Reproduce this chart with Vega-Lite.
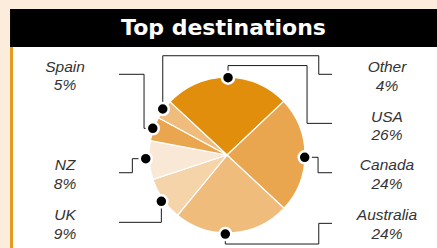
{
  "$schema": "https://vega.github.io/schema/vega-lite/v6.json",
  "width": 424,
  "height": 201,
  "autosize": {"type": "none"},
  "padding": {"left": 13, "top": 47, "right": 0, "bottom": 0},
  "background": "#FCECDC",
  "view": {"fill": "#FFFFFF", "stroke": null},
  "datasets": {
    "shares": [
      {"dest": "USA", "share": 0.26, "rank": 1},
      {"dest": "Canada", "share": 0.24, "rank": 2},
      {"dest": "Australia", "share": 0.24, "rank": 3},
      {"dest": "UK", "share": 0.09, "rank": 4},
      {"dest": "NZ", "share": 0.08, "rank": 5},
      {"dest": "Spain", "share": 0.05, "rank": 6},
      {"dest": "Other", "share": 0.04, "rank": 7}
    ],
    "leaders": [
      {"dest": "Other", "i": 0, "x": -0.824, "y": -0.590},
      {"dest": "Other", "i": 1, "x": -0.824, "y": -1.273},
      {"dest": "Other", "i": 2, "x": 1.176, "y": -1.273},
      {"dest": "Other", "i": 3, "x": 1.176, "y": -1.035},
      {"dest": "Other", "i": 4, "x": 1.346, "y": -1.035},
      {"dest": "Spain", "i": 0, "x": -0.952, "y": -0.342},
      {"dest": "Spain", "i": 1, "x": -1.064, "y": -0.342},
      {"dest": "Spain", "i": 2, "x": -1.064, "y": -1.035},
      {"dest": "Spain", "i": 3, "x": -1.385, "y": -1.035},
      {"dest": "NZ", "i": 0, "x": -1.042, "y": 0.047},
      {"dest": "NZ", "i": 1, "x": -1.214, "y": 0.047},
      {"dest": "NZ", "i": 2, "x": -1.214, "y": 0.227},
      {"dest": "NZ", "i": 3, "x": -1.385, "y": 0.227},
      {"dest": "UK", "i": 0, "x": -0.842, "y": 0.594},
      {"dest": "UK", "i": 1, "x": -0.842, "y": 0.863},
      {"dest": "UK", "i": 2, "x": -1.385, "y": 0.863},
      {"dest": "USA", "i": 0, "x": 0.013, "y": -0.991},
      {"dest": "USA", "i": 1, "x": 0.013, "y": -1.147},
      {"dest": "USA", "i": 2, "x": 1.026, "y": -1.147},
      {"dest": "USA", "i": 3, "x": 1.026, "y": -0.406},
      {"dest": "USA", "i": 4, "x": 1.346, "y": -0.406},
      {"dest": "Canada", "i": 0, "x": 0.996, "y": 0.029},
      {"dest": "Canada", "i": 1, "x": 1.167, "y": 0.029},
      {"dest": "Canada", "i": 2, "x": 1.167, "y": 0.227},
      {"dest": "Canada", "i": 3, "x": 1.346, "y": 0.227},
      {"dest": "Australia", "i": 0, "x": -0.022, "y": 1.013},
      {"dest": "Australia", "i": 1, "x": -0.022, "y": 1.141},
      {"dest": "Australia", "i": 2, "x": 1.176, "y": 1.141},
      {"dest": "Australia", "i": 3, "x": 1.176, "y": 0.876},
      {"dest": "Australia", "i": 4, "x": 1.346, "y": 0.876}
    ],
    "labels": [
      {"dest": "Spain", "lx": -2.077, "ly": -1.068},
      {"dest": "NZ", "lx": -2.077, "ly": 0.192},
      {"dest": "UK", "lx": -2.077, "ly": 0.833},
      {"dest": "Other", "lx": 2.051, "ly": -1.060},
      {"dest": "USA", "lx": 2.051, "ly": -0.427},
      {"dest": "Canada", "lx": 2.051, "ly": 0.192},
      {"dest": "Australia", "lx": 2.051, "ly": 0.833}
    ]
  },
  "layer": [
    {
      "data": {"values": [{}]},
      "mark": {"type": "rect", "color": "#000000"},
      "encoding": {
        "x": {"datum": -2.782, "type": "quantitative", "scale": {"domain": [-2.744, 2.692], "nice": false, "zero": false}, "axis": null},
        "x2": {"datum": 2.692},
        "y": {"datum": -1.872, "type": "quantitative", "scale": {"domain": [-1.385, 1.192], "nice": false, "zero": false, "reverse": true}, "axis": null},
        "y2": {"datum": -1.385}
      }
    },
    {
      "data": {"values": [{}]},
      "mark": {"type": "rect", "color": "#E59A1C"},
      "encoding": {
        "x": {"datum": -2.782, "type": "quantitative", "scale": {"domain": [-2.744, 2.692], "nice": false, "zero": false}, "axis": null},
        "x2": {"datum": -2.744},
        "y": {"datum": -1.385, "type": "quantitative", "scale": {"domain": [-1.385, 1.192], "nice": false, "zero": false, "reverse": true}, "axis": null},
        "y2": {"datum": 1.192}
      }
    },
    {
      "data": {"values": [{}]},
      "mark": {"type": "text", "text": "Top destinations", "font": "DejaVu Sans", "fontWeight": "bold", "fontSize": 22, "color": "#FFFFFF", "align": "center", "baseline": "alphabetic"},
      "encoding": {
        "x": {"datum": -0.045, "type": "quantitative", "scale": {"domain": [-2.744, 2.692], "nice": false, "zero": false}, "axis": null},
        "y": {"datum": -1.538, "type": "quantitative", "scale": {"domain": [-1.385, 1.192], "nice": false, "zero": false, "reverse": true}, "axis": null}
      }
    },
    {
      "data": {"name": "shares"},
      "mark": {"type": "arc", "outerRadius": 78, "stroke": "#FFFFFF", "strokeWidth": 1.2},
      "encoding": {
        "theta": {"field": "share", "type": "quantitative", "stack": true, "scale": {"range": [-0.8203, 5.4629]}},
        "color": {"field": "dest", "type": "nominal", "legend": null, "scale": {"domain": ["USA", "Canada", "Australia", "UK", "NZ", "Spain", "Other"], "range": ["#E08E0B", "#E9A64F", "#F0BC7C", "#F6D4A9", "#FAE8D6", "#E9A64F", "#F0BC7C"]}},
        "order": {"field": "rank", "type": "quantitative"},
        "x": {"datum": 0, "type": "quantitative", "scale": {"domain": [-2.744, 2.692], "nice": false, "zero": false}, "axis": null},
        "y": {"datum": 0, "type": "quantitative", "scale": {"domain": [-1.385, 1.192], "nice": false, "zero": false, "reverse": true}, "axis": null}
      }
    },
    {
      "data": {"name": "leaders"},
      "mark": {"type": "line", "color": "#1A1A1A", "strokeWidth": 1},
      "encoding": {
        "x": {"field": "x", "type": "quantitative", "scale": {"domain": [-2.744, 2.692], "nice": false, "zero": false}, "axis": null},
        "y": {"field": "y", "type": "quantitative", "scale": {"domain": [-1.385, 1.192], "nice": false, "zero": false, "reverse": true}, "axis": null},
        "detail": {"field": "dest", "type": "nominal"},
        "order": {"field": "i", "type": "quantitative"}
      }
    },
    {
      "data": {"name": "leaders"},
      "transform": [{"filter": "datum.i == 0"}],
      "mark": {"type": "point", "filled": true, "fill": "#000000", "stroke": "#FFFFFF", "strokeWidth": 2.5, "size": 144, "opacity": 1, "fillOpacity": 1, "strokeOpacity": 1},
      "encoding": {
        "x": {"field": "x", "type": "quantitative", "scale": {"domain": [-2.744, 2.692], "nice": false, "zero": false}, "axis": null},
        "y": {"field": "y", "type": "quantitative", "scale": {"domain": [-1.385, 1.192], "nice": false, "zero": false, "reverse": true}, "axis": null}
      }
    },
    {
      "data": {"name": "labels"},
      "mark": {"type": "text", "font": "Liberation Sans", "fontStyle": "italic", "fontSize": 15.5, "color": "#333333", "align": "center", "baseline": "alphabetic"},
      "encoding": {
        "x": {"field": "lx", "type": "quantitative", "scale": {"domain": [-2.744, 2.692], "nice": false, "zero": false}, "axis": null},
        "y": {"field": "ly", "type": "quantitative", "scale": {"domain": [-1.385, 1.192], "nice": false, "zero": false, "reverse": true}, "axis": null},
        "text": {"field": "dest", "type": "nominal"}
      }
    },
    {
      "data": {"name": "labels"},
      "transform": [{"lookup": "dest", "from": {"data": {"name": "shares"}, "key": "dest", "fields": ["share"]}}],
      "mark": {"type": "text", "font": "Liberation Sans", "fontStyle": "italic", "fontSize": 15.5, "color": "#333333", "align": "center", "baseline": "alphabetic", "dy": 18.7},
      "encoding": {
        "x": {"field": "lx", "type": "quantitative", "scale": {"domain": [-2.744, 2.692], "nice": false, "zero": false}, "axis": null},
        "y": {"field": "ly", "type": "quantitative", "scale": {"domain": [-1.385, 1.192], "nice": false, "zero": false, "reverse": true}, "axis": null},
        "text": {"field": "share", "type": "quantitative", "format": ".0%"}
      }
    }
  ]
}
